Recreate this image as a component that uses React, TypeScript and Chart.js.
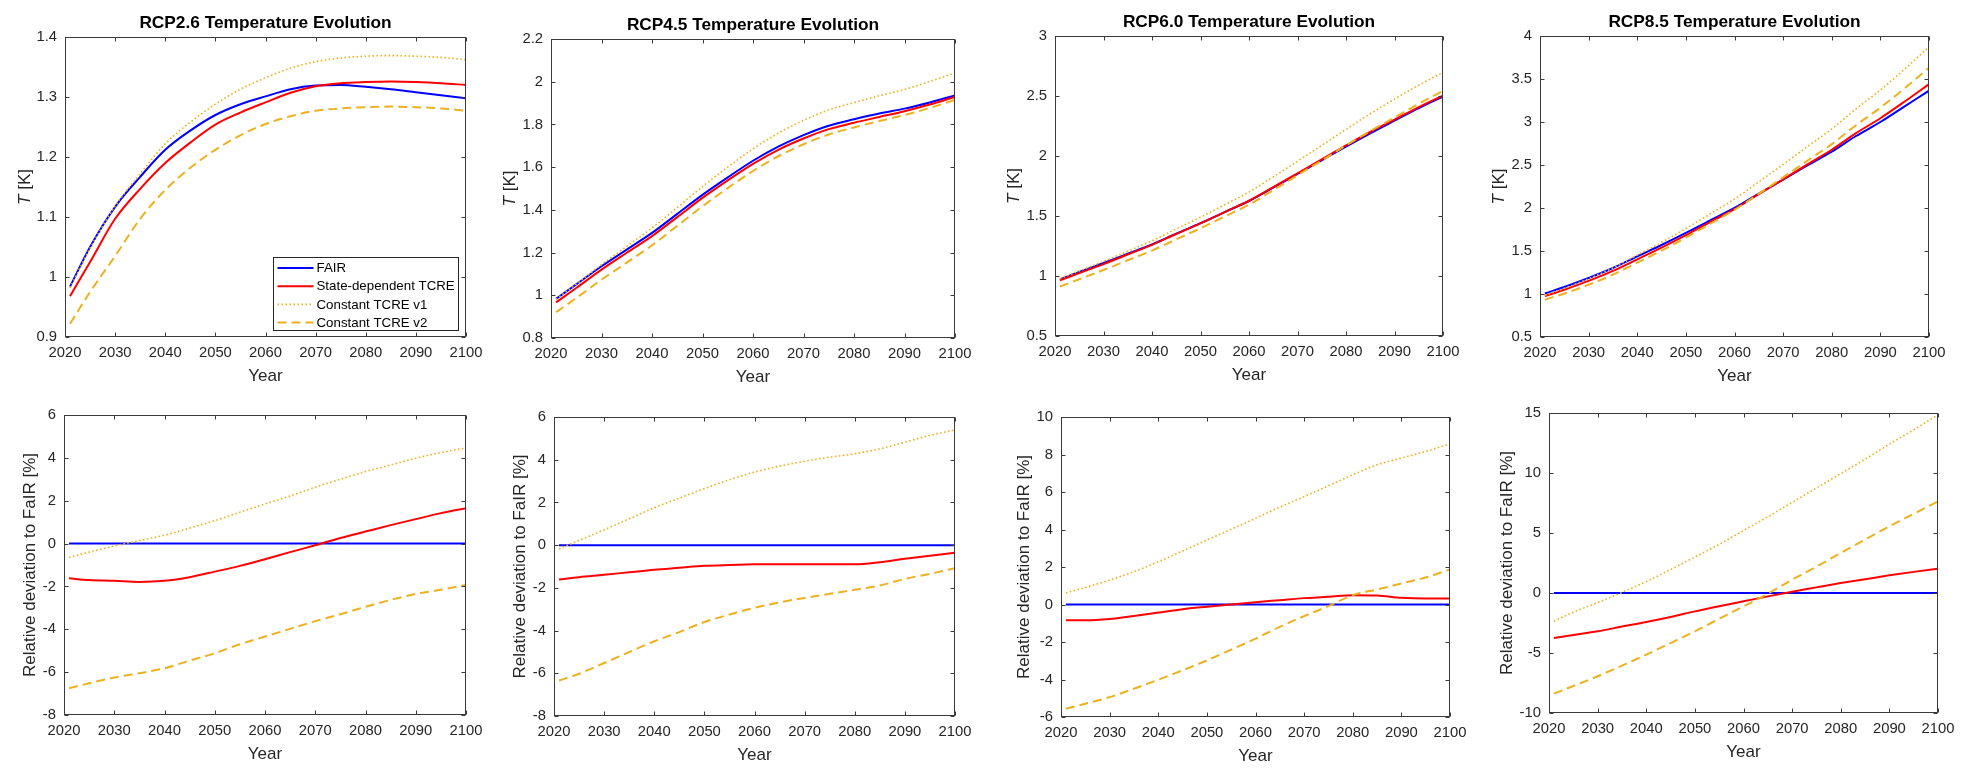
import React, { useEffect, useRef } from "react";
import { Chart, registerables } from "chart.js";

Chart.register(...registerables);

// ---------- data ----------
const YEARS = [2021, 2025, 2030, 2035, 2040, 2045, 2050, 2055, 2060, 2065, 2070, 2075, 2080, 2085, 2090, 2095, 2100];
const X_RANGE = [2020, 2100, 10];
const SERIES_LABELS = ["FAIR", "State-dependent TCRE", "Constant TCRE v1", "Constant TCRE v2"];
const PANEL_TITLES = ["RCP2.6 Temperature Evolution", "RCP4.5 Temperature Evolution", "RCP6.0 Temperature Evolution", "RCP8.5 Temperature Evolution"];
const X_LABEL = "Year";
const DEV_LABEL = "Relative deviation to FaIR [%]";

// RCP2.6
const RCP26_T_FAIR = [0.984, 1.05, 1.117, 1.167, 1.212, 1.244, 1.27, 1.288, 1.301, 1.313, 1.319, 1.32, 1.317, 1.313, 1.308, 1.303, 1.298];
const RCP26_T_STATE = [0.968, 1.025, 1.097, 1.147, 1.19, 1.224, 1.254, 1.274, 1.291, 1.307, 1.318, 1.323, 1.325, 1.326, 1.325, 1.323, 1.32];
const RCP26_T_V1 = [0.982, 1.048, 1.118, 1.172, 1.222, 1.258, 1.288, 1.313, 1.332, 1.348, 1.359, 1.365, 1.368, 1.369, 1.368, 1.366, 1.362];
const RCP26_T_V2 = [0.922, 0.975, 1.035, 1.097, 1.145, 1.182, 1.212, 1.236, 1.255, 1.268, 1.277, 1.281, 1.283, 1.284, 1.283, 1.281, 1.277];
const RCP26_DEV_FAIR = [0, 0, 0, 0, 0, 0, 0, 0, 0, 0, 0, 0, 0, 0, 0, 0, 0];
const RCP26_DEV_STATE = [-1.62, -1.7, -1.74, -1.79, -1.74, -1.57, -1.31, -1.04, -0.73, -0.4, -0.08, 0.26, 0.56, 0.86, 1.14, 1.42, 1.65];
const RCP26_DEV_V1 = [-0.65, -0.4, -0.11, 0.14, 0.39, 0.72, 1.07, 1.46, 1.85, 2.22, 2.63, 3.0, 3.36, 3.67, 3.98, 4.25, 4.46];
const RCP26_DEV_V2 = [-6.75, -6.52, -6.25, -6.05, -5.82, -5.46, -5.12, -4.7, -4.34, -3.98, -3.62, -3.3, -2.95, -2.63, -2.35, -2.16, -1.93];

// RCP4.5
const RCP45_T_FAIR = [0.983, 1.051, 1.136, 1.214, 1.292, 1.381, 1.47, 1.552, 1.63, 1.696, 1.75, 1.794, 1.824, 1.851, 1.874, 1.903, 1.936];
const RCP45_T_STATE = [0.967, 1.034, 1.12, 1.199, 1.277, 1.366, 1.456, 1.538, 1.615, 1.681, 1.734, 1.778, 1.808, 1.835, 1.862, 1.893, 1.929];
const RCP45_T_V1 = [0.981, 1.052, 1.144, 1.229, 1.315, 1.411, 1.509, 1.6, 1.686, 1.759, 1.819, 1.868, 1.902, 1.934, 1.964, 2.001, 2.041];
const RCP45_T_V2 = [0.921, 0.987, 1.073, 1.153, 1.234, 1.325, 1.417, 1.502, 1.582, 1.651, 1.707, 1.753, 1.786, 1.816, 1.844, 1.877, 1.915];
const RCP45_DEV_FAIR = [0, 0, 0, 0, 0, 0, 0, 0, 0, 0, 0, 0, 0, 0, 0, 0, 0];
const RCP45_DEV_STATE = [-1.61, -1.5, -1.39, -1.27, -1.15, -1.06, -0.97, -0.93, -0.9, -0.89, -0.89, -0.9, -0.9, -0.8, -0.64, -0.5, -0.36];
const RCP45_DEV_V1 = [-0.17, 0.22, 0.72, 1.23, 1.75, 2.2, 2.65, 3.06, 3.42, 3.7, 3.93, 4.12, 4.28, 4.51, 4.82, 5.14, 5.4];
const RCP45_DEV_V2 = [-6.34, -6.02, -5.52, -5.01, -4.5, -4.07, -3.6, -3.25, -2.93, -2.68, -2.47, -2.28, -2.09, -1.89, -1.58, -1.34, -1.08];

// RCP6.0
const RCP60_T_FAIR = [0.972, 1.033, 1.108, 1.186, 1.264, 1.353, 1.44, 1.533, 1.625, 1.736, 1.85, 1.964, 2.078, 2.189, 2.295, 2.4, 2.495];
const RCP60_T_STATE = [0.964, 1.024, 1.099, 1.179, 1.259, 1.35, 1.438, 1.533, 1.627, 1.74, 1.856, 1.972, 2.088, 2.2, 2.303, 2.408, 2.503];
const RCP60_T_V1 = [0.978, 1.042, 1.122, 1.207, 1.293, 1.392, 1.49, 1.594, 1.7, 1.826, 1.957, 2.088, 2.222, 2.352, 2.474, 2.59, 2.697];
const RCP60_T_V2 = [0.912, 0.973, 1.05, 1.131, 1.212, 1.306, 1.397, 1.496, 1.595, 1.715, 1.839, 1.962, 2.088, 2.207, 2.321, 2.435, 2.542];
const RCP60_DEV_FAIR = [0, 0, 0, 0, 0, 0, 0, 0, 0, 0, 0, 0, 0, 0, 0, 0, 0];
const RCP60_DEV_STATE = [-0.84, -0.84, -0.77, -0.61, -0.43, -0.25, -0.12, 0, 0.12, 0.23, 0.34, 0.41, 0.5, 0.48, 0.36, 0.32, 0.32];
const RCP60_DEV_V1 = [0.62, 0.91, 1.3, 1.75, 2.28, 2.85, 3.44, 4.01, 4.6, 5.19, 5.76, 6.33, 6.92, 7.45, 7.81, 8.16, 8.57];
const RCP60_DEV_V2 = [-5.56, -5.29, -4.94, -4.49, -4.01, -3.51, -2.98, -2.41, -1.82, -1.19, -0.62, -0.09, 0.5, 0.8, 1.12, 1.44, 1.87];

// RCP8.5
const RCP85_T_FAIR = [1.005, 1.081, 1.186, 1.302, 1.438, 1.57, 1.71, 1.857, 2.0, 2.167, 2.33, 2.496, 2.655, 2.837, 3.0, 3.182, 3.364];
const RCP85_T_STATE = [0.975, 1.05, 1.152, 1.268, 1.403, 1.539, 1.684, 1.837, 1.986, 2.161, 2.333, 2.508, 2.677, 2.87, 3.044, 3.238, 3.44];
const RCP85_T_V1 = [0.985, 1.066, 1.178, 1.303, 1.452, 1.601, 1.761, 1.932, 2.104, 2.305, 2.506, 2.714, 2.919, 3.153, 3.372, 3.615, 3.875];
const RCP85_T_V2 = [0.935, 1.005, 1.108, 1.225, 1.364, 1.505, 1.655, 1.817, 1.978, 2.166, 2.356, 2.551, 2.743, 2.963, 3.167, 3.392, 3.63];
const RCP85_DEV_FAIR = [0, 0, 0, 0, 0, 0, 0, 0, 0, 0, 0, 0, 0, 0, 0, 0, 0];
const RCP85_DEV_STATE = [-3.75, -3.5, -3.19, -2.8, -2.42, -2.0, -1.53, -1.1, -0.69, -0.28, 0.11, 0.47, 0.83, 1.15, 1.47, 1.76, 2.03];
const RCP85_DEV_V1 = [-2.35, -1.6, -0.8, 0.05, 0.95, 1.95, 3.0, 4.05, 5.2, 6.35, 7.55, 8.75, 9.95, 11.15, 12.4, 13.6, 14.85];
const RCP85_DEV_V2 = [-8.39, -7.75, -6.94, -6.05, -5.14, -4.17, -3.19, -2.15, -1.11, -0.06, 1.11, 2.2, 3.33, 4.45, 5.56, 6.6, 7.64];

// y-axis ranges [min, max, step]
const RCP26_T_RANGE = [0.9, 1.4, 0.1];
const RCP45_T_RANGE = [0.8, 2.2, 0.2];
const RCP60_T_RANGE = [0.5, 3, 0.5];
const RCP85_T_RANGE = [0.5, 4, 0.5];
const RCP26_DEV_RANGE = [-8, 6, 2];
const RCP45_DEV_RANGE = [-8, 6, 2];
const RCP60_DEV_RANGE = [-6, 10, 2];
const RCP85_DEV_RANGE = [-10, 15, 5];

// ---------- styles / layout ----------
const FONT = "'Liberation Sans', Arial, Helvetica, sans-serif";
const TEXT_COLOR = "#262626";
const TICK_SIZE = 14.8;
const LABEL_SIZE = 17;
const TITLE_SIZE = 17.3;
const SERIES_STYLES = [
  { color: "#0000FF", width: 2, dash: [] as number[] },
  { color: "#FF0000", width: 2, dash: [] as number[] },
  { color: "#EDB120", width: 1.6, dash: [1.6, 2.4] },
  { color: "#EDB120", width: 2, dash: [9, 5] },
];

const ML = 62, MT = 40, MR = 28, MB = 55, YW = 50, XH = 30;

type PanelCfg = {
  box: number[];
  title?: string;
  range: number[];
  series: number[][];
  tempLabel: boolean;
  yOff: number;
  legend?: boolean;
};

const PANELS: PanelCfg[] = [
  { box: [65, 37, 466, 337], title: PANEL_TITLES[0], range: RCP26_T_RANGE, series: [RCP26_T_FAIR, RCP26_T_STATE, RCP26_T_V1, RCP26_T_V2], tempLabel: true, yOff: 40, legend: true },
  { box: [64, 415, 466, 715], range: RCP26_DEV_RANGE, series: [RCP26_DEV_FAIR, RCP26_DEV_STATE, RCP26_DEV_V1, RCP26_DEV_V2], tempLabel: false, yOff: 34 },
  { box: [551, 39, 955, 338], title: PANEL_TITLES[1], range: RCP45_T_RANGE, series: [RCP45_T_FAIR, RCP45_T_STATE, RCP45_T_V1, RCP45_T_V2], tempLabel: true, yOff: 41 },
  { box: [554, 417, 955, 716], range: RCP45_DEV_RANGE, series: [RCP45_DEV_FAIR, RCP45_DEV_STATE, RCP45_DEV_V1, RCP45_DEV_V2], tempLabel: false, yOff: 34 },
  { box: [1055, 36, 1443, 336], title: PANEL_TITLES[2], range: RCP60_T_RANGE, series: [RCP60_T_FAIR, RCP60_T_STATE, RCP60_T_V1, RCP60_T_V2], tempLabel: true, yOff: 41 },
  { box: [1061, 417, 1450, 717], range: RCP60_DEV_RANGE, series: [RCP60_DEV_FAIR, RCP60_DEV_STATE, RCP60_DEV_V1, RCP60_DEV_V2], tempLabel: false, yOff: 37 },
  { box: [1540, 36, 1929, 337], title: PANEL_TITLES[3], range: RCP85_T_RANGE, series: [RCP85_T_FAIR, RCP85_T_STATE, RCP85_T_V1, RCP85_T_V2], tempLabel: true, yOff: 41 },
  { box: [1549, 413, 1938, 713], range: RCP85_DEV_RANGE, series: [RCP85_DEV_FAIR, RCP85_DEV_STATE, RCP85_DEV_V1, RCP85_DEV_V2], tempLabel: false, yOff: 42 },
];

function fmt(v: number) {
  return String(+Number(v).toFixed(3));
}

function makeFramePlugin(cfg: PanelCfg) {
  return {
    id: "frame",
    afterDatasetsDraw(chart: any) {
      const { ctx, chartArea: a, scales } = chart;
      const l = Math.round(a.left) + 0.5, r = Math.round(a.right) - 0.5;
      const t = Math.round(a.top) + 0.5, b = Math.round(a.bottom) - 0.5;
      ctx.save();
      ctx.strokeStyle = "#3a3a3a";
      ctx.lineWidth = 1;
      ctx.beginPath();
      const TL = 4;
      for (const tk of scales.x.ticks) {
        const px = Math.round(scales.x.getPixelForValue(tk.value)) + 0.5;
        ctx.moveTo(px, b); ctx.lineTo(px, b - TL);
        ctx.moveTo(px, t); ctx.lineTo(px, t + TL);
      }
      for (const tk of scales.y.ticks) {
        const py = Math.round(scales.y.getPixelForValue(tk.value)) + 0.5;
        ctx.moveTo(l, py); ctx.lineTo(l + TL, py);
        ctx.moveTo(r, py); ctx.lineTo(r - TL, py);
      }
      ctx.stroke();
      ctx.strokeRect(l, t, r - l, b - t);

      // title
      const cx = (a.left + a.right) / 2;
      if (cfg.title) {
        ctx.fillStyle = "#000";
        ctx.font = `bold ${TITLE_SIZE}px ${FONT}`;
        ctx.textAlign = "center";
        ctx.textBaseline = "middle";
        ctx.fillText(cfg.title, cx, a.top - 14);
      }
      // x label
      ctx.fillStyle = TEXT_COLOR;
      ctx.font = `${LABEL_SIZE}px ${FONT}`;
      ctx.textAlign = "center";
      ctx.textBaseline = "middle";
      ctx.fillText(X_LABEL, cx, a.bottom + 39);

      // y label
      ctx.save();
      ctx.translate(a.left - cfg.yOff, (a.top + a.bottom) / 2);
      ctx.rotate(-Math.PI / 2);
      ctx.textBaseline = "middle";
      ctx.textAlign = "left";
      if (cfg.tempLabel) {
        ctx.font = `italic ${LABEL_SIZE}px ${FONT}`;
        const w1 = ctx.measureText("T").width;
        ctx.font = `${LABEL_SIZE}px ${FONT}`;
        const w2 = ctx.measureText(" [K]").width;
        const x0 = -(w1 + w2) / 2;
        ctx.font = `italic ${LABEL_SIZE}px ${FONT}`;
        ctx.fillText("T", x0, 0);
        ctx.font = `${LABEL_SIZE}px ${FONT}`;
        ctx.fillText(" [K]", x0 + w1, 0);
      } else {
        ctx.textAlign = "center";
        ctx.font = `${LABEL_SIZE}px ${FONT}`;
        ctx.fillText(DEV_LABEL, 0, 0);
      }
      ctx.restore();

      // legend
      if (cfg.legend) {
        const bx = Math.round(a.right - 193) + 0.5;
        const by = Math.round(a.bottom - 80) + 0.5;
        const bw = 185, bh = 73;
        ctx.fillStyle = "#fff";
        ctx.fillRect(bx, by, bw, bh);
        ctx.strokeStyle = "#262626";
        ctx.lineWidth = 1;
        ctx.setLineDash([]);
        ctx.strokeRect(bx, by, bw, bh);
        ctx.font = `13.3px ${FONT}`;
        ctx.textAlign = "left";
        ctx.textBaseline = "middle";
        SERIES_LABELS.forEach((lab, i) => {
          const st = SERIES_STYLES[i];
          const yy = by + 10.5 + i * 18.2;
          ctx.save();
          ctx.strokeStyle = st.color;
          ctx.lineWidth = st.width;
          ctx.setLineDash(st.dash);
          ctx.beginPath();
          ctx.moveTo(bx + 4, yy);
          ctx.lineTo(bx + 40, yy);
          ctx.stroke();
          ctx.restore();
          ctx.fillStyle = "#000";
          ctx.fillText(lab, bx + 43, yy + 0.5);
        });
      }
      ctx.restore();
    },
  };
}

function Panel({ cfg }: { cfg: PanelCfg }) {
  const ref = useRef<HTMLCanvasElement>(null);
  const [L, T, R, B] = cfg.box;
  const w = R - L + ML + MR;
  const h = B - T + MT + MB;

  useEffect(() => {
    const chart = new Chart(ref.current as HTMLCanvasElement, {
      type: "line",
      data: {
        datasets: cfg.series.map((vals, i) => ({
          label: SERIES_LABELS[i],
          data: YEARS.map((x, j) => ({ x, y: vals[j] })),
          borderColor: SERIES_STYLES[i].color,
          backgroundColor: SERIES_STYLES[i].color,
          borderWidth: SERIES_STYLES[i].width,
          borderDash: SERIES_STYLES[i].dash,
          borderCapStyle: "butt",
          pointRadius: 0,
          cubicInterpolationMode: "monotone",
          fill: false,
          order: 4 - i,
        })),
      },
      options: {
        animation: false,
        responsive: false,
        events: [],
        layout: { padding: { left: ML - YW, top: MT, right: MR, bottom: MB - XH } },
        plugins: {
          legend: { display: false },
          tooltip: { enabled: false },
          title: { display: false },
        },
        scales: {
          x: {
            type: "linear",
            min: X_RANGE[0],
            max: X_RANGE[1],
            grid: { display: false, drawTicks: false },
            border: { display: false },
            ticks: {
              stepSize: X_RANGE[2],
              autoSkip: false,
              maxRotation: 0,
              padding: 7,
              color: TEXT_COLOR,
              font: { family: FONT, size: TICK_SIZE },
              callback: (v: any) => String(v),
            },
            afterFit: (s: any) => { s.height = XH; },
          },
          y: {
            type: "linear",
            min: cfg.range[0],
            max: cfg.range[1],
            grid: { display: false, drawTicks: false },
            border: { display: false },
            ticks: {
              stepSize: cfg.range[2],
              autoSkip: false,
              padding: 8,
              color: TEXT_COLOR,
              font: { family: FONT, size: TICK_SIZE },
              callback: (v: any) => fmt(v),
            },
            afterFit: (s: any) => { s.width = YW; },
          },
        },
      } as any,
      plugins: [makeFramePlugin(cfg)],
    } as any);
    return () => chart.destroy();
  }, []);

  return (
    <canvas
      ref={ref}
      width={w}
      height={h}
      style={{ position: "absolute", left: L - ML, top: T - MT, width: w, height: h }}
    />
  );
}

export default function App() {
  return (
    <div style={{ position: "absolute", left: 0, top: 0, width: 1972, height: 780, background: "#fff", overflow: "hidden" }}>
      {PANELS.map((p, i) => (
        <Panel key={i} cfg={p} />
      ))}
    </div>
  );
}
